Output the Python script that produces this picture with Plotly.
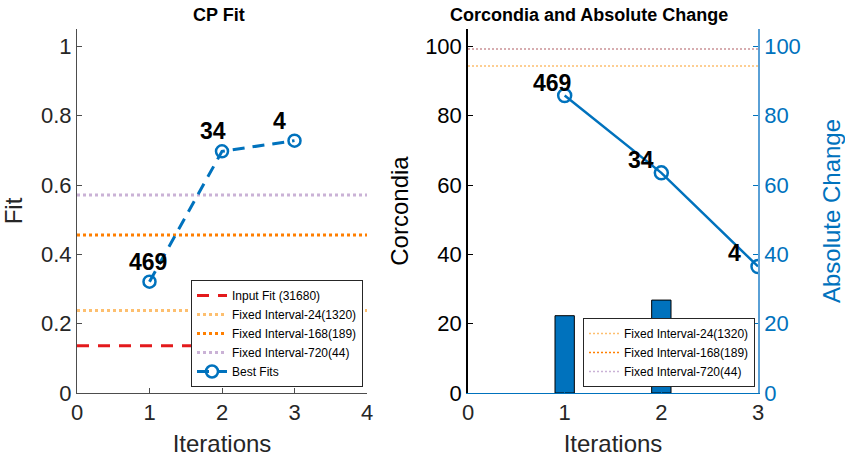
import plotly.graph_objects as go

# ---------------- data ----------------
iterations = [1, 2, 3]
best_fits = [0.321, 0.697, 0.728]
best_fit_labels = ["469", "34", "4"]

input_fit = 0.136
fixed_fit_names = ["Fixed Interval-24(1320)", "Fixed Interval-168(189)", "Fixed Interval-720(44)"]
fixed_fit_values = [0.238, 0.456, 0.571]

corcondia_iters = [1, 2]
corcondia_vals = [22.3, 26.8]
abs_change_vals = [85.8, 63.5, 36.5]
abs_change_labels = ["469", "34", "4"]
fixed_corcondia_values = [94.3, 99.2, 99.2]

left_xrange = [0, 4]
right_xrange = [0, 3]

# ---------------- style ----------------
BLUE = "#0072BD"
RED = "#e31a1c"
fixed_colors = ["#fdbf6f", "#ff7f00", "#cab2d6"]
FONT = "Liberation Sans, Arial, sans-serif"
AXGRAY = "#4d4d4d"

fig = go.Figure()

# ----- left panel -----
fig.add_trace(go.Scatter(
    x=left_xrange, y=[input_fit, input_fit], mode="lines",
    line=dict(color=RED, width=3, dash="12px,9px"),
    name="Input Fit (31680)", xaxis="x", yaxis="y", legend="legend"))
for nm, v, c in zip(fixed_fit_names, fixed_fit_values, fixed_colors):
    fig.add_trace(go.Scatter(
        x=left_xrange, y=[v, v], mode="lines",
        line=dict(color=c, width=3, dash="dot"),
        name=nm, xaxis="x", yaxis="y", legend="legend"))
fig.add_trace(go.Scatter(
    x=iterations, y=best_fits, mode="lines+markers",
    line=dict(color=BLUE, width=3, dash="12px,8px"),
    marker=dict(symbol="circle-open", size=12, color=BLUE, line=dict(width=2.5, color=BLUE)),
    name="Best Fits", xaxis="x", yaxis="y", legend="legend"))

# ----- right panel -----
fig.add_trace(go.Bar(
    x=corcondia_iters, y=corcondia_vals, width=0.2,
    marker=dict(color=BLUE, line=dict(color="black", width=1)),
    showlegend=False, xaxis="x2", yaxis="y2"))
fig.add_trace(go.Scatter(
    x=iterations, y=abs_change_vals, mode="lines+markers",
    line=dict(color=BLUE, width=2.5),
    marker=dict(symbol="circle-open", size=13, color=BLUE, line=dict(width=2.5, color=BLUE)),
    showlegend=False, xaxis="x2", yaxis="y3"))
for nm, v, c in zip(fixed_fit_names, fixed_corcondia_values, fixed_colors):
    fig.add_trace(go.Scatter(
        x=right_xrange, y=[v, v], mode="lines",
        line=dict(color=c, width=1.5, dash="2px,2px"),
        name=nm, xaxis="x2", yaxis="y2", legend="legend2"))

# ----- labels on points -----
annots = []
left_shifts = [-2, -9, -15]
for xi, yi, t, sx in zip(iterations, best_fits, best_fit_labels, left_shifts):
    annots.append(dict(x=xi, y=yi, xref="x", yref="y", text="<b>%s</b>" % t,
                       showarrow=False, xshift=sx, yshift=20,
                       font=dict(family=FONT, size=23, color="black")))
right_shifts = [-13, -20, -24]
for xi, yi, t, sx in zip(iterations, abs_change_vals, abs_change_labels, right_shifts):
    annots.append(dict(x=xi, y=yi, xref="x2", yref="y3", text="<b>%s</b>" % t,
                       showarrow=False, xshift=sx, yshift=13,
                       font=dict(family=FONT, size=23, color="black")))
# subplot titles
annots.append(dict(x=218.5 / 845, y=1 - 15 / 460, xref="paper", yref="paper",
                   xanchor="center", yanchor="middle",
                   text="<b>CP Fit</b>", showarrow=False,
                   font=dict(family=FONT, size=18, color="black")))
annots.append(dict(x=588.5 / 845, y=1 - 15 / 460, xref="paper", yref="paper",
                   xanchor="center", yanchor="middle",
                   text="<b>Corcondia and Absolute Change</b>", showarrow=False,
                   font=dict(family=FONT, size=18, color="black")))

ydom = [1 - 393 / 460, 1 - 29 / 460]
tickfont = dict(family=FONT, size=22, color="#262626")
titlefont = dict(family=FONT, size=24, color="#262626")

common_ax = dict(showgrid=False, zeroline=False, ticks="inside", ticklen=5,
                 showline=True, automargin=False)

fig.update_layout(
    width=845, height=460,
    margin=dict(l=0, r=0, t=0, b=0),
    paper_bgcolor="white", plot_bgcolor="white",
    font=dict(family=FONT),
    annotations=annots,
    xaxis=dict(domain=[77 / 845, 367 / 845], range=left_xrange, tickvals=[0, 1, 2, 3, 4],
               linecolor=AXGRAY, tickcolor=AXGRAY, linewidth=1, tickfont=tickfont,
               title=dict(text="Iterations", font=titlefont, standoff=10),
               anchor="y", **common_ax),
    yaxis=dict(domain=ydom, range=[0, 1.05], tickvals=[0, 0.2, 0.4, 0.6, 0.8, 1],
               ticktext=["0", "0.2", "0.4", "0.6", "0.8", "1"],
               linecolor=AXGRAY, tickcolor=AXGRAY, linewidth=1, tickfont=tickfont,
               title=dict(text="Fit", font=titlefont, standoff=11),
               anchor="x", **common_ax),
    xaxis2=dict(domain=[468 / 845, 758 / 845], range=right_xrange, tickvals=[0, 1, 2, 3],
                linecolor=BLUE, tickcolor=BLUE, linewidth=1, tickfont=tickfont,
                title=dict(text="Iterations", font=titlefont, standoff=10),
                anchor="y2", **common_ax),
    yaxis2=dict(domain=ydom, range=[0, 105], tickvals=[0, 20, 40, 60, 80, 100],
                linecolor="black", tickcolor="black", linewidth=1.5,
                tickfont=dict(family=FONT, size=22, color="black"),
                title=dict(text="Corcondia", font=dict(family=FONT, size=24, color="black"), standoff=10),
                anchor="x2", **common_ax),
    yaxis3=dict(domain=ydom, range=[0, 105], tickvals=[0, 20, 40, 60, 80, 100],
                overlaying="y2", side="right",
                linecolor="#5aa0d6", tickcolor=BLUE, linewidth=1.5,
                tickfont=dict(family=FONT, size=22, color=BLUE),
                title=dict(text="Absolute Change", font=dict(family=FONT, size=24, color=BLUE), standoff=23),
                anchor="x2", **common_ax),
    legend=dict(x=191 / 845, y=1 - 387 / 460, xanchor="left", yanchor="bottom",
                bgcolor="white", bordercolor="#262626", borderwidth=1,
                font=dict(family=FONT, size=12, color="black"),
                itemwidth=30, tracegroupgap=0),
    legend2=dict(x=583 / 845, y=1 - 387 / 460, xanchor="left", yanchor="bottom",
                 bgcolor="white", bordercolor="#262626", borderwidth=1,
                 font=dict(family=FONT, size=12, color="black"),
                 itemwidth=30, tracegroupgap=0),
    showlegend=True,
    barmode="overlay",
)

fig.write_html("out.html", config={"displayModeBar": False},
               post_script="document.body.style.margin='0';document.body.style.overflow='hidden';")
